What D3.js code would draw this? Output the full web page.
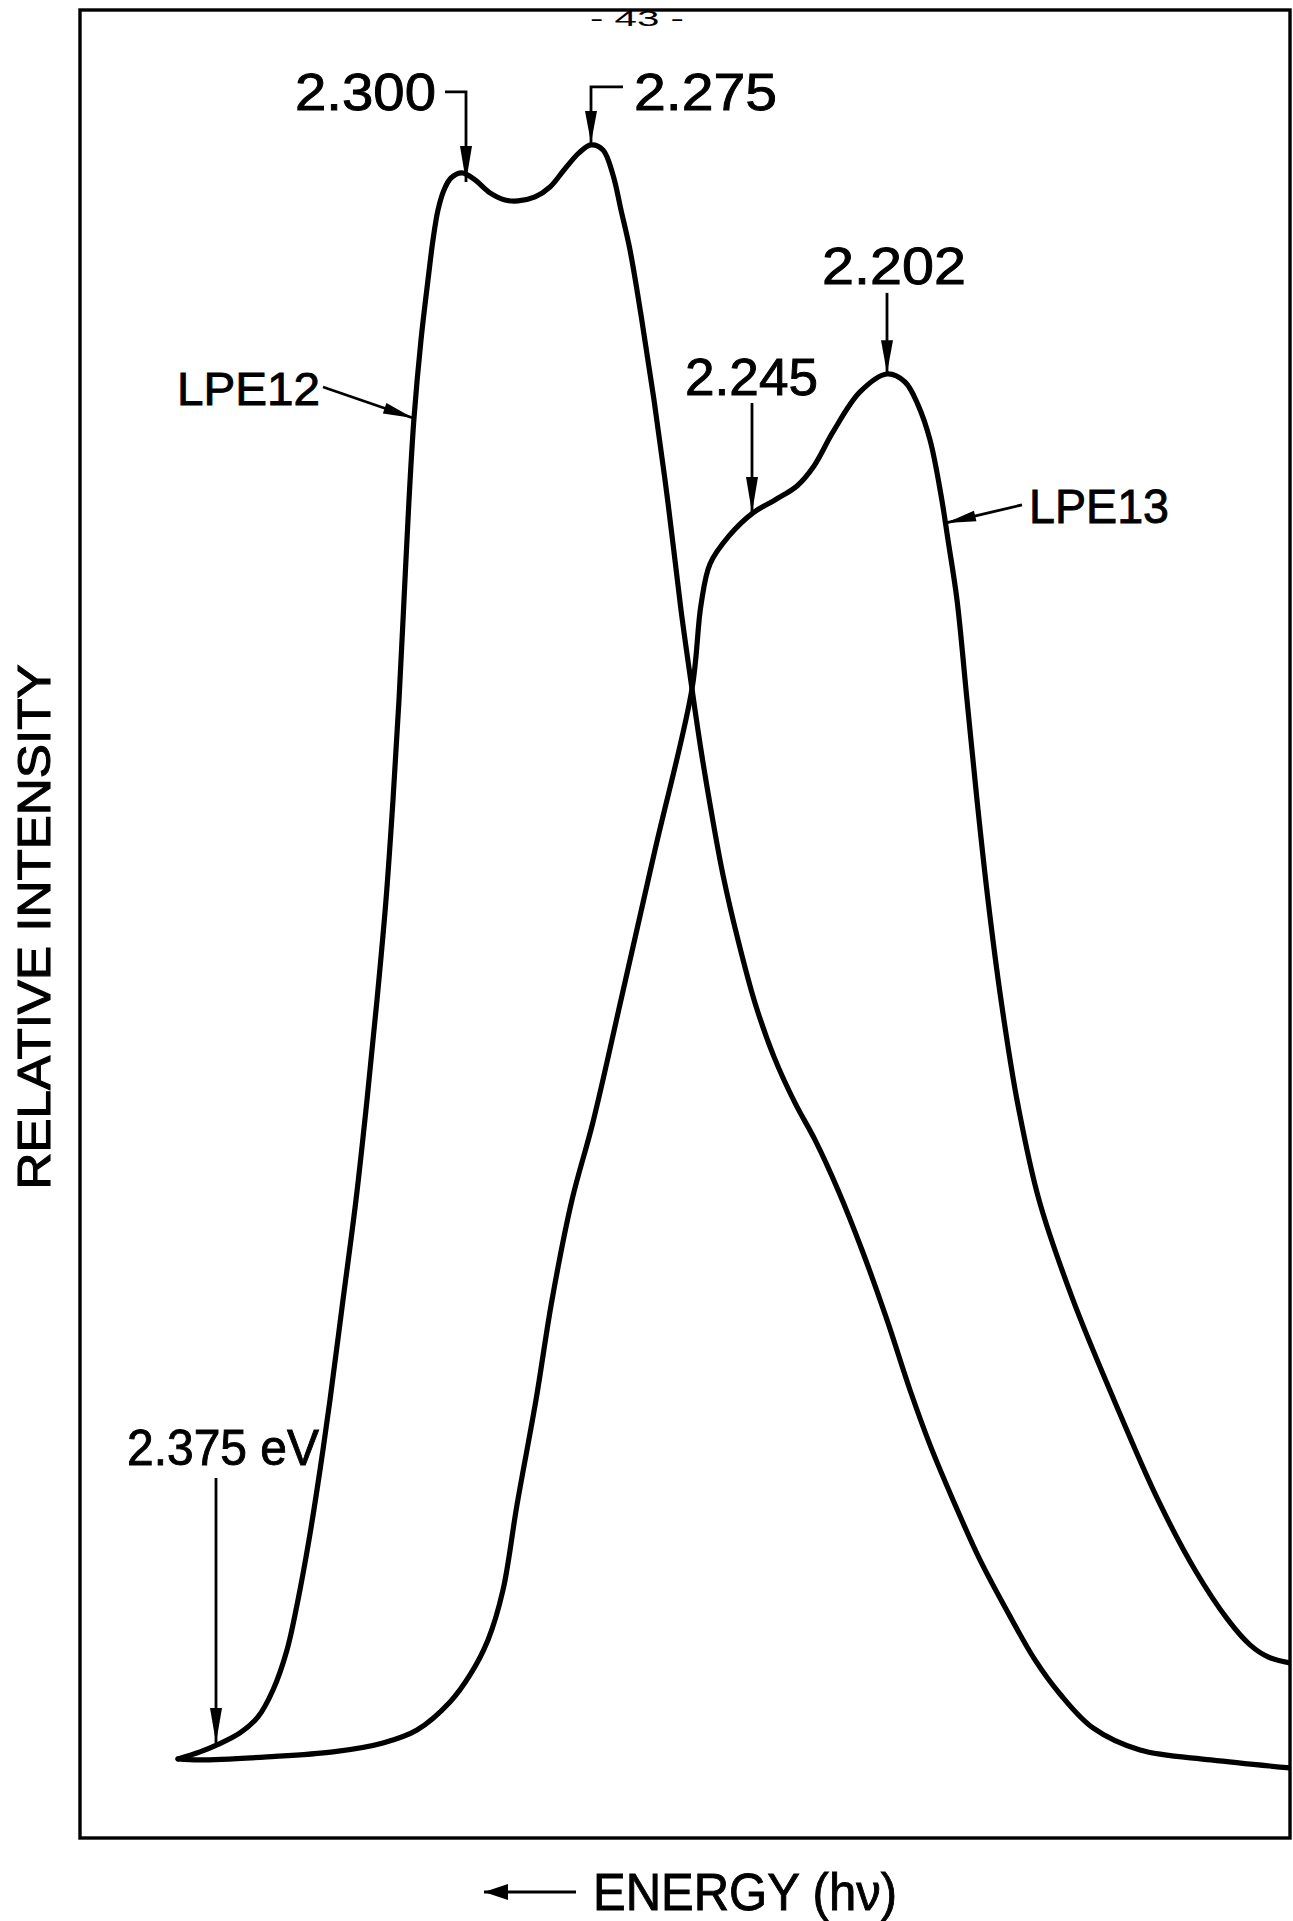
<!DOCTYPE html>
<html><head><meta charset="utf-8">
<script src="https://cdn.jsdelivr.net/npm/d3@7"></script>
<style>html,body{margin:0;padding:0;background:#fff;} svg{display:block;}</style>
</head><body>
<svg id="chart" width="1293" height="1921"></svg>
<script>
// ---- Data (scan position in arbitrary units, relative intensity) ----
const scanPos12 = [9.8,12.0,13.7,16.0,17.8,19.3,20.7,21.8,22.9,24.0,25.0,26.3,27.6,28.7,29.7,30.6,31.3,31.9,32.4,32.9,33.4,34.1,34.8,35.3,35.8,36.4,37.1,38.2,39.5,41.0,42.5,43.8,45.5,47.0,48.4,49.9,51.1,52.3,53.3,54.1,55.0,56.1,57.4,58.8,60.1,61.2,62.1,63.1,64.3,65.8,67.5,69.4,71.5,73.5,75.8,78.2,80.7,83.0,85.0,87.3,90.0,93.2,95.5,98.0,101.3,106.0,113.1,121.0];
const intensity12 = [0,0.44,0.88,1.63,2.63,4.31,6.81,9.94,13.69,18.06,22.44,28.69,34.94,41.19,47.44,53.69,59.94,66.19,72.44,78.69,83.81,88.69,92.44,94.94,96.81,98.06,98.81,99.13,98.69,97.88,97.44,97.38,97.63,98.25,99.31,100.38,100.88,100.56,99.0,96.81,94.31,90.25,84.94,78.5,71.81,66.88,63.06,59.31,55.25,51.19,47.25,43.88,41.0,38.69,35.56,31.81,27.44,23.06,19.63,16.19,12.44,8.69,6.19,4.06,1.94,0.56,-0.06,-0.56];
const scanPos13 = [9.8,12.0,18.7,25.3,30.3,33.7,37.0,39.0,40.8,42.3,43.7,45.6,47.2,49.2,51.3,54.1,57.5,61.2,62.1,63.0,64.9,67.3,69.5,71.7,73.4,75.3,78.0,80.7,82.5,83.8,85.0,86.1,86.8,87.7,88.7,89.7,90.8,92.1,93.7,95.9,99.3,103.4,107.8,111.5,114.8,117.0,118.8,121.0];
const intensity13 = [0,-0.06,0.13,0.44,1.0,1.81,3.56,5.25,7.44,10.56,15.88,22.44,28.69,34.94,39.81,47.44,56.81,66.88,72.13,74.69,76.44,77.88,78.69,79.56,80.81,82.94,85.44,86.56,86.06,84.63,82.44,79.0,76.19,72.44,66.19,59.94,53.69,47.44,41.19,34.94,28.69,22.44,16.19,11.81,8.69,7.13,6.38,6.0];
const seriesNames = ["LPE12","LPE13"];
const peakLabels = ["2.300","2.275","2.245","2.202","2.375 eV"];
const axisTitles = ["ENERGY (hν)","RELATIVE INTENSITY"];
const pageLabel = "- 43 -";

// ---- Layout ----
const FONT = "'Liberation Sans', Arial, sans-serif";
const svg = d3.select("#chart");
const x = d3.scaleLinear().domain([0,121]).range([80,1290]);
const y = d3.scaleLinear().domain([-4.94,109.31]).range([1838,10]);

svg.append("rect").attr("width",1293).attr("height",1921).attr("fill","#fff");

svg.append("defs").append("clipPath").attr("id","plotclip")
  .append("rect").attr("x",x(0)).attr("y",y(109.31)).attr("width",x(121)-x(0)).attr("height",y(-4.94)-y(109.31));

const line = d3.line().x(d=>x(d[0])).y(d=>y(d[1])).curve(d3.curveCatmullRom.alpha(0.5));
const series = [d3.zip(scanPos12,intensity12), d3.zip(scanPos13,intensity13)];
svg.append("g").attr("clip-path","url(#plotclip)")
  .selectAll("path").data(series).join("path")
  .attr("d",line).attr("fill","none").attr("stroke","#000")
  .attr("stroke-width",5.2).attr("stroke-linejoin","round").attr("stroke-linecap","round");

// frame
svg.append("rect").attr("x",x(0)).attr("y",y(109.31)).attr("width",x(121)-x(0)).attr("height",y(-4.94)-y(109.31))
  .attr("fill","none").attr("stroke","#000").attr("stroke-width",3.4);

// ---- annotations ----
function arrowHead(g, pts, len, half){
  const [x1,y1] = pts[pts.length-2], [x2,y2] = pts[pts.length-1];
  const dx=x2-x1, dy=y2-y1, L=Math.hypot(dx,dy), ux=dx/L, uy=dy/L;
  const bx=x2-ux*len, by=y2-uy*len;
  g.append("path").attr("d",`M${x2},${y2}L${bx-uy*half},${by+ux*half}L${bx+uy*half},${by-ux*half}Z`).attr("fill","#000");
}
function leader(pointsData, len, half, sw){
  const pts = pointsData.map(p=>[x(p[0]),y(p[1])]);
  const g = svg.append("g");
  g.append("path").attr("d",d3.line()(pts)).attr("fill","none").attr("stroke","#000").attr("stroke-width",sw||2.8);
  arrowHead(g, pts, len, half);
}
function label(text, xv, yv, fs, tl){
  return svg.append("text").attr("x",x(xv)).attr("y",y(yv)).attr("font-family",FONT).attr("font-size",fs)
    .attr("textLength",tl).attr("lengthAdjust","spacingAndGlyphs").attr("fill","#000")
    .attr("stroke","#000").attr("stroke-width",0.9).text(text);
}
// 2.300
label(peakLabels[0], 21.5, 103.06, 52, 141);
leader([[36.5,104.19],[38.6,104.19],[38.6,98.56]], 36, 6);
// 2.275
label(peakLabels[1], 55.4, 103.06, 52, 143);
leader([[54.3,104.5],[51.1,104.5],[51.1,101.0]], 32, 6);
// 2.245
label(peakLabels[2], 60.5, 85.25, 52, 133);
leader([[67.2,84.75],[67.2,77.88]], 36, 6);
// 2.202
label(peakLabels[3], 74.2, 92.19, 52, 144);
leader([[80.7,91.63],[80.7,86.6]], 33, 6);
// 2.375 eV
label(peakLabels[4], 4.7, 18.38, 50, 192);
leader([[13.6,17.56],[13.6,1.0]], 35, 6);
// series labels
label(seriesNames[0], 9.7, 84.63, 46, 143);
leader([[24.3,85.75],[33.3,83.81]], 30, 5.5);
label(seriesNames[1], 94.9, 77.25, 49, 140);
leader([[94.2,78.38],[86.6,77.25]], 30, 5.5);

// axis titles
label(axisTitles[0], 51.3, -9.44, 52, 304);
leader([[49.6,-8.31],[40.4,-8.31]], 24, 8, 3);
svg.append("text").attr("transform",`translate(${x(-3.0)},${y(52.0)}) rotate(-90)`)
  .attr("text-anchor","middle").attr("font-family",FONT).attr("font-size",47)
  .attr("stroke","#000").attr("stroke-width",1.1)
  .attr("textLength",525).attr("lengthAdjust","spacingAndGlyphs").text(axisTitles[1]);

// page number
svg.append("text").attr("x",x(55.7)).attr("y",y(108.31)).attr("text-anchor","middle")
  .attr("font-family",FONT).attr("font-size",22).attr("textLength",94).attr("lengthAdjust","spacingAndGlyphs").text(pageLabel);
</script>
</body></html>
